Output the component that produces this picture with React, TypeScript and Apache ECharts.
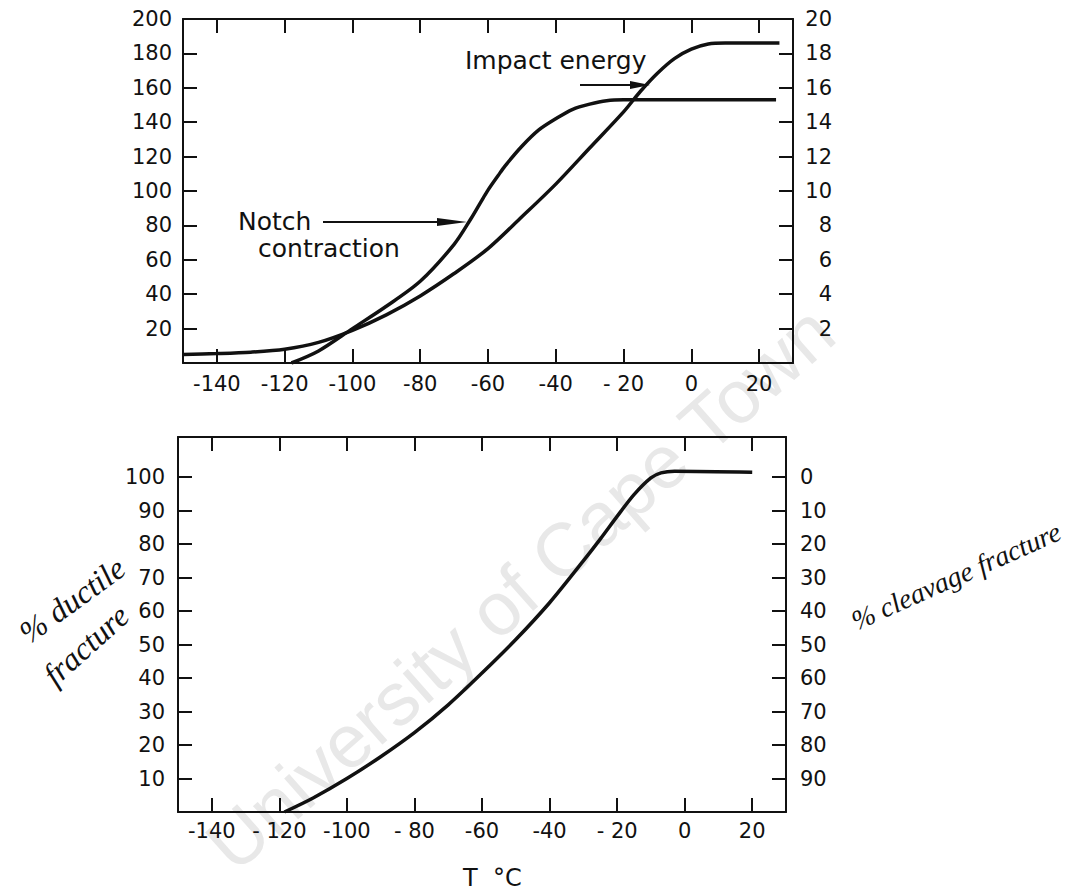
import React, { useEffect, useRef } from "react";
import * as echarts from "echarts";

// Temperature axis (°C), shared by both panels
const tempTicks = [-140, -120, -100, -80, -60, -40, -20, 0, 20];
const upperTempLabels = ["-140", "-120", "-100", "-80", "-60", "-40", "- 20", "0", "20"];
const lowerTempLabels = ["-140", "- 120", "-100", "- 80", "-60", "-40", "- 20", "0", "20"];

// Upper panel scales
const upperLeftTicks = [20, 40, 60, 80, 100, 120, 140, 160, 180, 200];
const upperRightTicks = [2, 4, 6, 8, 10, 12, 14, 16, 18, 20];

// Lower panel scale (% ductile on the left, % cleavage = 100 - ductile on the right)
const ductileTicks = [10, 20, 30, 40, 50, 60, 70, 80, 90, 100];

// Impact energy curve
const impactTemp = [-150, -140, -130, -120, -110, -100, -90, -80, -70, -60, -50, -40, -30, -20, -15, -10, -5, 0, 5, 10, 26];
const impactEnergy = [5, 5.5, 6.3, 8, 12, 19, 28, 39, 52, 66.5, 85, 104, 125, 146, 158, 168.5, 177, 182.5, 185.5, 186, 186];

// Notch contraction curve
const notchTemp = [-118, -110, -100, -90, -80, -70, -65, -62, -60, -57, -55, -50, -45, -40, -35, -30, -25, -20, 25];
const notchContraction = [0, 7, 20, 33, 47.5, 69, 84, 94, 100.5, 109, 114.5, 126, 135.5, 142, 147.5, 150.5, 152.5, 153, 153];

// Ductile fracture curve
const ductileTemp = [-118.5, -110, -100, -90, -80, -70, -60, -50, -40, -30, -25, -20, -15, -10, -7, -3, 20];
const ductilePct = [0, 4.2, 10, 16.5, 23.7, 32, 41.5, 51.5, 62.5, 75, 81.5, 88.3, 94.8, 99.8, 101.3, 101.8, 101.5];

const ink = "#111";
const labelText = { fontFamily: "DejaVu Sans", fontSize: 21, color: ink };
const frameLine = { show: true, onZero: false, lineStyle: { color: ink, width: 2 } };
const ticksAt = (values: number[]) => ({
  show: true,
  inside: true,
  length: 14,
  customValues: values,
  lineStyle: { color: ink, width: 2 },
});
const pairs = (xs: number[], ys: number[]) => xs.map((x, i) => [x, ys[i]]);

function buildOption() {
  const tempAxis = (gridIndex: number, position: "top" | "bottom", labels: string[] | null, margin: number) => ({
    type: "value",
    gridIndex,
    position,
    min: -150,
    max: 30,
    axisLine: frameLine,
    axisTick: ticksAt(tempTicks),
    axisLabel: labels
      ? {
          ...labelText,
          margin,
          customValues: tempTicks,
          formatter: (v: number) => labels[tempTicks.indexOf(v)] ?? "",
        }
      : { show: false },
    splitLine: { show: false },
  });

  const lineSeries = (name: string, xAxisIndex: number, yAxisIndex: number, data: number[][]) => ({
    name,
    type: "line",
    xAxisIndex,
    yAxisIndex,
    data,
    smooth: 0.3,
    showSymbol: false,
    silent: true,
    lineStyle: { color: ink, width: 3.5 },
    z: 5,
  });

  const arrowHead = (tipX: number, tipY: number, len: number, half: number) => ({
    type: "polygon",
    z: 20,
    shape: { points: [[tipX - len, tipY - half], [tipX, tipY], [tipX - len, tipY + half]] },
    style: { fill: ink },
  });

  const text = (t: string, x: number, y: number, font: string, extra: any = {}) => ({
    type: "text",
    x,
    y,
    z: 20,
    ...extra,
    style: {
      text: t,
      font,
      fill: ink,
      textAlign: extra.align ?? "left",
      align: extra.align ?? "left",
      textVerticalAlign: "middle",
      verticalAlign: "middle",
    },
  });

  return {
    animation: false,
    backgroundColor: "#fff",
    grid: [
      { left: 183, top: 19, right: 292, bottom: 529 },
      { left: 178, top: 437, right: 299, bottom: 80 },
    ],
    xAxis: [
      tempAxis(0, "bottom", upperTempLabels, 10),
      tempAxis(0, "top", null, 0),
      tempAxis(1, "bottom", lowerTempLabels, 8),
      tempAxis(1, "top", null, 0),
    ],
    yAxis: [
      {
        type: "value",
        gridIndex: 0,
        position: "left",
        min: 0,
        max: 200,
        axisLine: frameLine,
        axisTick: ticksAt(upperLeftTicks),
        axisLabel: { ...labelText, margin: 11, customValues: upperLeftTicks },
        splitLine: { show: false },
      },
      {
        type: "value",
        gridIndex: 0,
        position: "right",
        min: 0,
        max: 20,
        axisLine: frameLine,
        axisTick: ticksAt(upperRightTicks),
        axisLabel: { ...labelText, margin: 39, align: "right", customValues: upperRightTicks },
        splitLine: { show: false },
      },
      {
        type: "value",
        gridIndex: 1,
        position: "left",
        min: 0,
        max: 112,
        axisLine: frameLine,
        axisTick: ticksAt(ductileTicks),
        axisLabel: { ...labelText, margin: 13, customValues: ductileTicks },
        splitLine: { show: false },
      },
      {
        type: "value",
        gridIndex: 1,
        position: "right",
        min: 0,
        max: 112,
        axisLine: frameLine,
        axisTick: ticksAt(ductileTicks),
        axisLabel: {
          ...labelText,
          margin: 14,
          customValues: ductileTicks,
          formatter: (v: number) => String(100 - v),
        },
        splitLine: { show: false },
      },
    ],
    series: [
      lineSeries("Impact energy", 0, 0, pairs(impactTemp, impactEnergy)),
      lineSeries("Notch contraction", 0, 0, pairs(notchTemp, notchContraction)),
      lineSeries("% ductile fracture", 2, 2, pairs(ductileTemp, ductilePct)),
    ],
    graphic: [
      // watermark
      {
        type: "text",
        x: 520,
        y: 588,
        rotation: (41.5 * Math.PI) / 180,
        z: 0,
        silent: true,
        style: {
          text: "University of Cape Town",
          font: "75px Liberation Sans",
          fill: "#e8e8e8",
          textAlign: "center",
          align: "center",
          textVerticalAlign: "middle",
          verticalAlign: "middle",
        },
      },
      // curve annotations
      text("Impact energy", 465, 60, "25px DejaVu Sans"),
      { type: "line", z: 20, shape: { x1: 580, y1: 85, x2: 634, y2: 85 }, style: { stroke: ink, lineWidth: 2 } },
      arrowHead(650, 85, 20, 4),
      text("Notch", 238, 221, "25px DejaVu Sans"),
      text("contraction", 258, 248, "25px DejaVu Sans"),
      { type: "line", z: 20, shape: { x1: 323, y1: 222, x2: 440, y2: 222 }, style: { stroke: ink, lineWidth: 2 } },
      arrowHead(467, 222, 30, 4),
      // temperature axis title
      text("T  °C", 463, 878, "24px DejaVu Sans"),
      // handwritten side notes
      text("% ductile", 72, 600, "italic 32px Liberation Serif", { align: "center", rotation: (36 * Math.PI) / 180 }),
      text("fracture", 86, 645, "italic 32px Liberation Serif", { align: "center", rotation: (42 * Math.PI) / 180 }),
      text("% cleavage fracture", 956, 576, "italic 28px Liberation Serif", { align: "center", rotation: (24 * Math.PI) / 180 }),
    ],
  };
}

export default function App() {
  const ref = useRef<HTMLDivElement>(null);
  useEffect(() => {
    if (!ref.current) return;
    const chart = echarts.init(ref.current, null, { renderer: "svg" });
    chart.setOption(buildOption() as any);
    return () => chart.dispose();
  }, []);
  return (
    <div
      ref={ref}
      style={{ position: "absolute", left: 0, top: 0, width: 1085, height: 892, background: "#fff" }}
    />
  );
}
